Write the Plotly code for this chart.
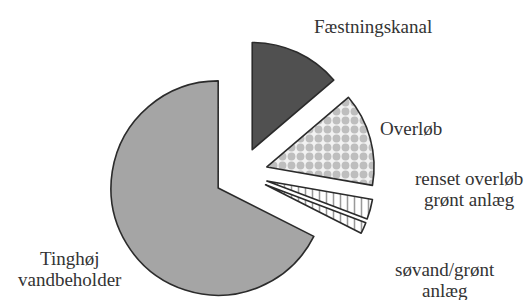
import plotly.graph_objects as go

# Data, clockwise from 12 o'clock
labels = ["Fæstningskanal", "Overløb", "renset overløb grønt anlæg",
          "søvand/grønt anlæg", "Tinghøj vandbeholder"]
values = [13.75, 14.0, 3.0, 1.7, 67.55]

label_texts = ["Fæstningskanal", "Overløb", "renset overløb<br>grønt anlæg",
               "søvand/grønt<br>anlæg", "Tinghøj<br>vandbeholder"]
label_x = [365, 403, 461, 437, 62]
label_y = [18.5, 120.5, 170.5, 261, 250.5]   # centre of first line, px from top
line_gap = 21

W, H = 532, 300
fill_colors = ["#505050", "#f2f2f2", "#ffffff", "#ffffff", "#a5a5a5"]
pattern_shapes = ["", ".", "|", "|", ""]
pattern_fg = ["#505050", "#8a8a8a", "#333333", "#333333", "#a5a5a5"]
pattern_sizes = [8, 9, 7, 7, 8]
pattern_sol = [0.3, 0.6, 0.22, 0.22, 0.3]

fig = go.Figure(go.Pie(
    labels=labels,
    values=values,
    sort=False,
    direction="clockwise",
    rotation=0,
    pull=[0.25] * len(values),
    textinfo="none",
    hoverinfo="label+percent",
    showlegend=False,
    marker=dict(
        colors=fill_colors,
        line=dict(color="#2b2b2b", width=1.6),
        pattern=dict(shape=pattern_shapes, fgcolor=pattern_fg, bgcolor=fill_colors,
                     size=pattern_sizes, solidity=pattern_sol, fillmode="overlay"),
    ),
    domain=dict(x=[99 / W, 367 / W], y=[0, 268 / H]),
))

for t, x, y in zip(label_texts, label_x, label_y):
    for i, line in enumerate(t.split("<br>")):
        fig.add_annotation(text=line, x=x / W, y=1 - (y + i * line_gap) / H,
                           xref="paper", yref="paper",
                           xanchor="center", yanchor="middle", showarrow=False,
                           font=dict(family="Liberation Serif", size=19, color="#333333"))

fig.update_layout(
    width=W, height=H,
    margin=dict(l=0, r=0, t=0, b=0),
    paper_bgcolor="white",
    plot_bgcolor="white",
)

fig.write_html("out.html")
